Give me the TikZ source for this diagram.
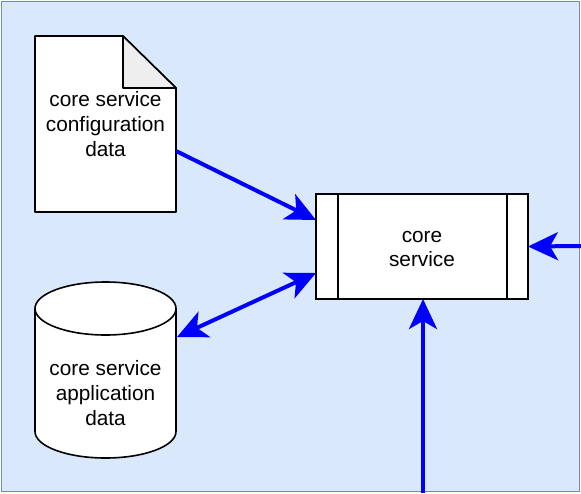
\documentclass[tikz,border=0pt]{standalone}
\usepackage{fontspec}
\setmainfont{Liberation Sans}
\usetikzlibrary{arrows.meta}
\definecolor{bgfill}{HTML}{DAE8FC}
\definecolor{bgline}{HTML}{6C8EBF}
\definecolor{foldgray}{HTML}{EEEEEE}
\definecolor{arrowblue}{HTML}{0000FF}
\tikzset{
  shapeline/.style={draw=black, line width=1.6pt, fill=white},
  lbl/.style={align=center, font=\fontsize{20.8}{24.6}\selectfont, inner sep=0pt},
  bigtip/.tip={Stealth[length=30pt,width=28pt,inset=8pt]},
  flow/.style={draw=arrowblue, line width=4pt, -bigtip},
  flowboth/.style={draw=arrowblue, line width=4pt, bigtip-bigtip},
}
\begin{document}
\begin{tikzpicture}[x=1pt,y=-1pt]
\useasboundingbox (0,0) rectangle (581,493);
% background container
\draw[fill=bgfill, draw=bgline, line width=1.4pt] (1.5,1.5) rectangle (579.5,491.5);
% document shape
\draw[shapeline, line join=round] (35,36) -- (123,36) -- (176,88) -- (176,212) -- (35,212) -- cycle;
\draw[draw=black, line width=1.6pt, fill=foldgray, line join=round] (123,36) -- (123,88) -- (176,88) -- cycle;
\node[lbl] (doc) at (105.5,124) {core service\\configuration\\data};
% cylinder
\draw[shapeline] (35,308.5) -- (35,431.5) arc[start angle=180, end angle=360, x radius=70.5, y radius=-26.5] -- (176,308.5) arc[start angle=0, end angle=180, x radius=70.5, y radius=-26.5] -- cycle;
\draw[draw=black, line width=1.6pt] (35,308.5) arc[start angle=180, end angle=360, x radius=70.5, y radius=-26.5];
\node[lbl] (db) at (105.5,393) {core service\\application\\data};
% core service box
\node[shapeline, minimum width=212pt, minimum height=105pt, inner sep=0pt, outer sep=0pt] (core) at (422,246.5) {};
\draw[draw=black, line width=1.6pt] (338,194) -- (338,299) (507,194) -- (507,299);
\node[lbl] (corelbl) at (422,249) {core\\service};
% connector endpoints
\coordinate (docout) at (176,151);
\coordinate (corein1) at (316,220);
\coordinate (dbout) at (177,337);
\coordinate (corein2) at (316,273);
\coordinate (rightsrc) at (581,246);
\coordinate (botsrc) at (423,493);
% connectors
\draw[flow] (docout) -- (corein1);
\draw[flowboth] (dbout) -- (corein2);
\draw[flow] (rightsrc) -- (core.east);
\draw[flow] (botsrc) -- (botsrc |- core.south);
\end{tikzpicture}
\end{document}
